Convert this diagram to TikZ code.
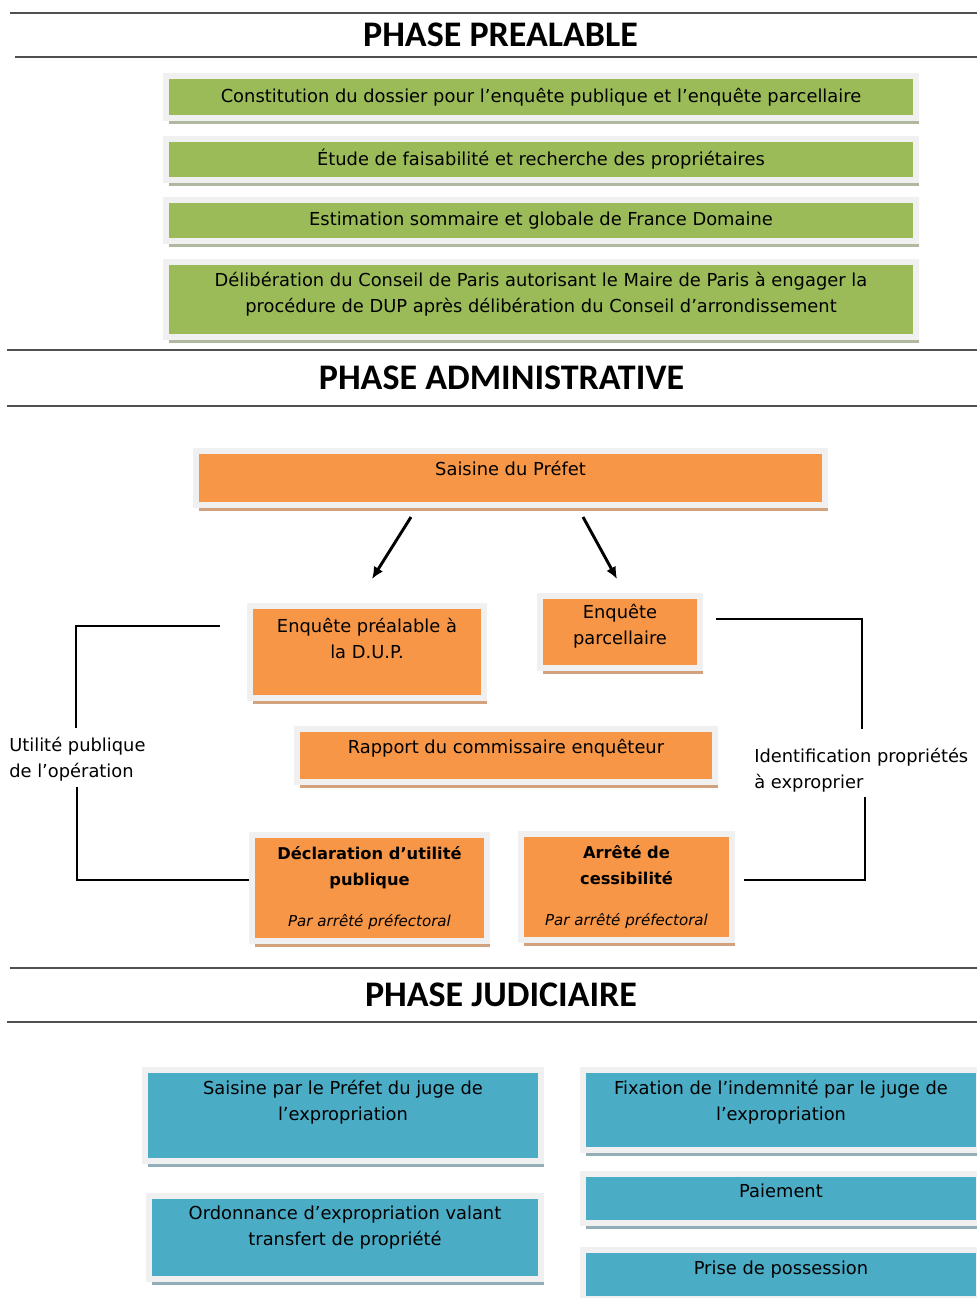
\documentclass[tikz,border=0pt]{standalone}
\usepackage{fontspec}
\setmainfont{DejaVu Sans}
\newfontfamily\titrefont{Carlito}
\usetikzlibrary{arrows.meta,positioning,shadows}

\definecolor{vert}{HTML}{9BBB59}
\definecolor{orangeb}{HTML}{F79646}
\definecolor{bleu}{HTML}{4BACC6}
\definecolor{cadre}{HTML}{F0F0F0}
\definecolor{ombrevert}{HTML}{B0B89F}
\definecolor{ombreorange}{HTML}{D2A27E}
\definecolor{ombrebleu}{HTML}{93AEB8}
\definecolor{trait}{HTML}{505050}

% invisible strut pushing the text up in a box
\newcommand\bas[1]{\rule[-#1]{0pt}{#1}}
\newcommand\gras[1]{{\bfseries\fontsize{12.2}{19.5}\selectfont #1}}
\newcommand\arrete{{\itshape\fontsize{11.3}{12}\selectfont Par arrêté préfectoral}}

\begin{document}
\begin{tikzpicture}[
  x=0.75pt, y=-0.75pt,
  >={Latex[length=9pt,width=8pt]},
  font=\fontsize{13.4}{19.5}\selectfont,
  box/.style={draw=cadre,line width=4.5pt,align=center,inner sep=2pt},
  boxvert/.style={box,fill=vert,general shadow={fill=ombrevert,shadow xshift=2.25pt,shadow yshift=-4.5pt}},
  boxorange/.style={box,fill=orangeb,general shadow={fill=ombreorange,shadow xshift=2.25pt,shadow yshift=-4.5pt}},
  boxbleu/.style={box,fill=bleu,general shadow={fill=ombrebleu,shadow xshift=2.25pt,shadow yshift=-4.5pt}},
  titre/.style={font=\titrefont\bfseries\fontsize{27}{31}\selectfont,inner sep=0pt},
  regle/.style={draw=trait,line width=1.1pt},
  crochet/.style={draw,line width=1.1pt},
  fleche/.style={->,line width=2.2pt},
  etiq/.style={align=left,anchor=west,inner sep=0pt},
]
\useasboundingbox (0,0) rectangle (977,1298);

% ---------- phase prealable ----------
\draw[regle] (10,13) -- (977,13);
\draw[regle] (15,57) -- (977,57);
\node[titre] (t-prealable) at (500.5,35) {PHASE PREALABLE};

\node[boxvert,minimum width=562.5pt,minimum height=31.5pt] (dossier) at (541,97)
  {Constitution du dossier pour l’enquête publique et l’enquête parcellaire};
\node[boxvert,minimum width=562.5pt,minimum height=30.75pt] (etude) at (541,159.5)
  {Étude de faisabilité et recherche des propriétaires};
\node[boxvert,minimum width=562.5pt,minimum height=30.75pt] (estim) at (541,220.5)
  {Estimation sommaire et globale de France Domaine};
\node[boxvert,minimum width=562.5pt,minimum height=56.25pt] (delib) at (541,299.5)
  {Délibération du Conseil de Paris autorisant le Maire de Paris à engager la\\
   procédure de DUP après délibération du Conseil d’arrondissement\bas{10.5pt}};

% ---------- phase administrative ----------
\draw[regle] (7,350) -- (977,350);
\draw[regle] (7,406) -- (977,406);
\node[titre] (t-admin) at (501.5,378) {PHASE ADMINISTRATIVE};

\node[boxorange,minimum width=471.75pt,minimum height=40.5pt] (prefet) at (510.5,478)
  {Saisine du Préfet\bas{14.5pt}};
\node[boxorange,minimum width=175.5pt,minimum height=69pt] (enq-dup) at (367,652)
  {Enquête préalable à\\la D.U.P.\bas{21pt}};
\node[boxorange,minimum width=120pt,minimum height=54pt] (enq-parc) at (620,632)
  {Enquête\\parcellaire\bas{11.2pt}};
\node[boxorange,minimum width=313.5pt,minimum height=39.75pt] (rapport) at (506,755.5)
  {Rapport du commissaire enquêteur\bas{14.2pt}};
\node[boxorange,minimum width=176.25pt,minimum height=79.5pt] (dup) at (369.5,888)
  {\gras{Déclaration d\symbol{39}utilité}\\\gras{publique}\\[11pt]\arrete};
\node[boxorange,minimum width=158.25pt,minimum height=79.5pt] (cessib) at (626.5,887)
  {\gras{Arrêté de}\\\gras{cessibilité}\\[11pt]\arrete};

\draw[fleche] ([shift={(-99.5,9)}]prefet.south) -- ([shift={(5,-24)}]enq-dup.north);
\draw[fleche] ([shift={(72.5,9)}]prefet.south) -- ([shift={(-3,-14)}]enq-parc.north);

\node[etiq] (utilite) at (9,759) {Utilité publique\\de l’opération};
\node[etiq] (identif) at (754,770) {Identification propriétés\\à exproprier};

\coordinate (utilite-haut) at (76,728);
\coordinate (utilite-bas) at (77,787);
\coordinate (identif-haut) at (862,729);
\coordinate (identif-bas) at (865,797);

\draw[crochet] ([shift={(-27,-26)}]enq-dup.west) -| (utilite-haut);
\draw[crochet] (utilite-bas) |- ([shift={(0,-8)}]dup.west);
\draw[crochet] ([shift={(13,-13)}]enq-parc.east) -| (identif-haut);
\draw[crochet] ([shift={(9,-7)}]cessib.east) -| (identif-bas);

% ---------- phase judiciaire ----------
\draw[regle] (10,968) -- (977,968);
\draw[regle] (7,1022) -- (977,1022);
\node[titre] (t-judic) at (501,995) {PHASE JUDICIAIRE};

\node[boxbleu,minimum width=297pt,minimum height=68.25pt] (saisine-juge) at (343,1115.5)
  {Saisine par le Préfet du juge de\\l’expropriation\bas{23.2pt}};
\node[boxbleu,minimum width=294pt,minimum height=62.25pt] (ordonnance) at (345,1237.5)
  {Ordonnance d’expropriation valant\\transfert de propriété\bas{17.2pt}};
\node[boxbleu,minimum width=297pt,minimum height=60pt] (indemnite) at (781,1110)
  {Fixation de l’indemnité par le juge de\\l’expropriation\bas{15pt}};
\node[boxbleu,minimum width=297pt,minimum height=36.75pt] (paiement) at (781,1198.5)
  {Paiement\bas{11.2pt}};
\node[boxbleu,minimum width=297pt,minimum height=36.75pt] (possession) at (781,1274.5)
  {Prise de possession\bas{10pt}};

\end{tikzpicture}
\end{document}
